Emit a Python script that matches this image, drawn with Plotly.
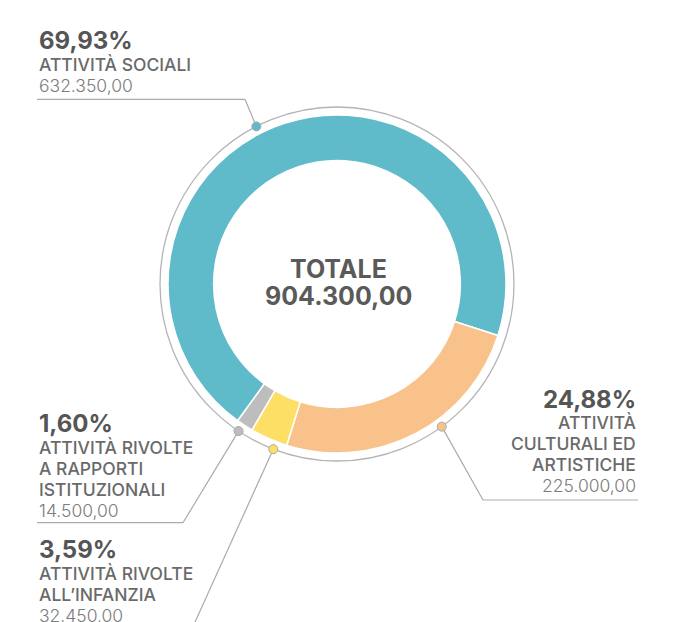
import math
import plotly.graph_objects as go

# ---------------- data ----------------
categories = ["ATTIVITÀ SOCIALI", "ATTIVITÀ CULTURALI ED ARTISTICHE",
              "ATTIVITÀ RIVOLTE ALL’INFANZIA", "ATTIVITÀ RIVOLTE A RAPPORTI ISTITUZIONALI"]
values = [632350, 225000, 32450, 14500]
percent_labels = ["69,93%", "24,88%", "3,59%", "1,60%"]
value_labels = ["632.350,00", "225.000,00", "32.450,00", "14.500,00"]
label_lines = [["ATTIVITÀ SOCIALI"],
               ["ATTIVITÀ", "CULTURALI ED", "ARTISTICHE"],
               ["ATTIVITÀ RIVOLTE", "ALL’INFANZIA"],
               ["ATTIVITÀ RIVOLTE", "A RAPPORTI", "ISTITUZIONALI"]]
total_title = "TOTALE"
total_value = "904.300,00"

# ---------------- style / layout ----------------
W, H = 677, 622
colors = ["#5FBBC9", "#F9C28B", "#FDDF66", "#BDBDBD"]
CX, CY = 337, 284          # chart centre (px)
R_PIE = 169                # donut outer radius (px)
R_RING = 177               # grey outline radius (px)
FONT = "Inter"
C_PCT, C_LAB, C_VAL = "#555555", "#6a6a6a", "#7c7c7c"
LINE_C = "#ababab"

# label blocks: (x, anchor, first baseline)
blocks = [(37, "left", 49.3), (638, "right", 407.7), (37, "left", 558.3), (37, "left", 432.3)]
LINE_GAP = 21
# dot angles on ring (deg, clockwise from 3 o'clock) and leader paths after dot
dot_angles = [242.9, 53.7, 111.1, 123.8]
leader_paths = [[(245, 99.3), (37, 99.3)],
                [(483, 500), (638, 500)],
                [(186, 642)],
                [(183, 522.7), (37, 522.7)]]

fig = go.Figure()

fig.add_trace(go.Pie(
    labels=categories, values=values, sort=False, direction="clockwise",
    rotation=216, hole=0.73, textinfo="none", hoverinfo="label+value+percent",
    marker=dict(colors=colors, line=dict(color="white", width=1.5)),
    domain=dict(x=[(CX - R_PIE) / W, (CX + R_PIE) / W],
                y=[(H - CY - R_PIE) / H, (H - CY + R_PIE) / H]),
    showlegend=False,
))

shapes = [dict(type="circle", xref="x", yref="y",
               x0=CX - R_RING, x1=CX + R_RING, y0=CY - R_RING, y1=CY + R_RING,
               line=dict(color="#b4b4b4", width=1.3), layer="below")]

dot_x, dot_y = [], []
for ang, path in zip(dot_angles, leader_paths):
    dx = CX + R_RING * math.cos(math.radians(ang))
    dy = CY + R_RING * math.sin(math.radians(ang))
    dot_x.append(dx)
    dot_y.append(dy)
    pts = [(dx, dy)] + path
    for (x0, y0), (x1, y1) in zip(pts[:-1], pts[1:]):
        shapes.append(dict(type="line", xref="x", yref="y", x0=x0, y0=y0, x1=x1, y1=y1,
                           line=dict(color=LINE_C, width=1.2), layer="below"))

fig.add_trace(go.Scatter(
    x=dot_x, y=dot_y, mode="markers", hoverinfo="skip", showlegend=False,
    marker=dict(size=9, color=colors, line=dict(color="#a8a8a8", width=1)),
))

annotations = []


def add_text(text, x, baseline, size, weight, color, anchor):
    annotations.append(dict(
        text=text, x=x, y=baseline - 0.36 * size, xref="x", yref="y",
        xanchor=anchor, yanchor="middle", showarrow=False,
        font=dict(family=FONT, size=size, color=color, weight=weight)))


for (bx, anchor, base), pct, lines, val in zip(blocks, percent_labels, label_lines, value_labels):
    add_text(pct, bx, base, 24, 700, C_PCT, anchor)
    b = base
    for ln in lines:
        b += LINE_GAP
        add_text(ln, bx, b, 17.5, 500, C_LAB, anchor)
    b += LINE_GAP
    add_text(val, bx, b, 17.5, 300, C_VAL, anchor)

add_text(total_title, 338.5, 278.3, 25, 700, "#5a5a5a", "center")
add_text(total_value, 338.5, 305, 25, 700, "#5a5a5a", "center")

fig.update_layout(
    width=W, height=H, margin=dict(l=0, r=0, t=0, b=0),
    paper_bgcolor="white", plot_bgcolor="rgba(0,0,0,0)",
    xaxis=dict(range=[0, W], visible=False, fixedrange=True, domain=[0, 1]),
    yaxis=dict(range=[H, 0], visible=False, fixedrange=True, domain=[0, 1]),
    shapes=shapes, annotations=annotations,
)

fig.write_html("out.html", config={"displayModeBar": False},
               post_script="document.body.style.margin='0';document.body.style.overflow='hidden';")
